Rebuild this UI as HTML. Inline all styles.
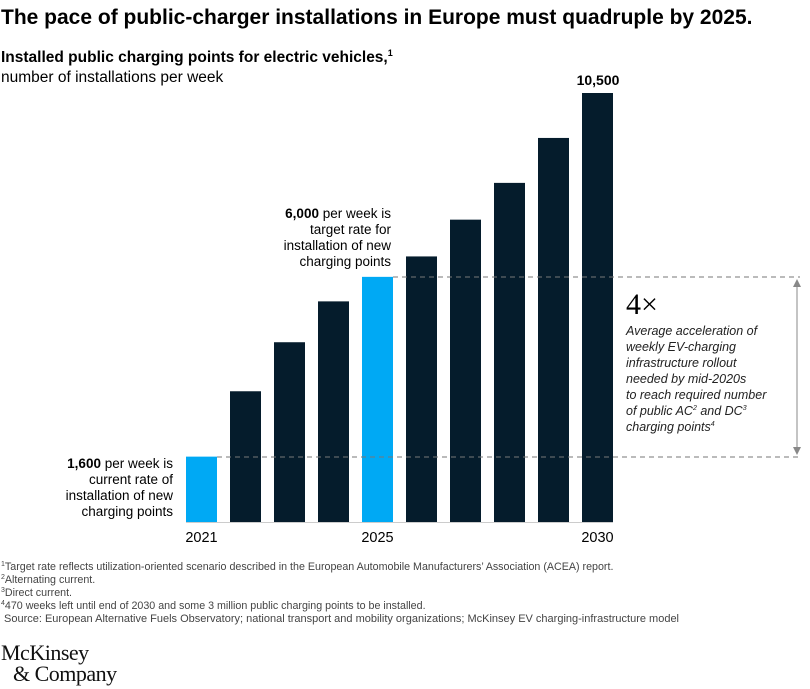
<!DOCTYPE html>
<html><head><meta charset="utf-8"><style>
body{margin:0;background:#fff;width:810px;height:689px;overflow:hidden;font-family:"Liberation Sans",sans-serif;color:#111}
svg{position:absolute;left:0;top:0}
</style></head><body>
<svg width="810" height="689">
<text x="1" y="24" font-size="21" font-weight="bold">The pace of public-charger installations in Europe must quadruple by 2025.</text>
<text x="1" y="62" font-size="15.5" font-weight="bold">Installed public charging points for electric vehicles,<tspan font-size="9" dy="-6">1</tspan></text>
<text x="1" y="82" font-size="15.5">number of installations per week</text>
<g id="bars"></g>
<g id="xlabels"></g>
<line x1="217" y1="457" x2="800" y2="457" stroke="#777" stroke-dasharray="5,4"/>
<line x1="393" y1="277" x2="800" y2="277" stroke="#777" stroke-dasharray="5,4"/>
<line x1="797" y1="282" x2="797" y2="452" stroke="#888" stroke-width="1"/>
<path d="M793,287 L797,279 L801,287 Z M793,447 L797,455 L801,447 Z" fill="#888"/>
<text x="626" y="314" font-family="Liberation Serif,serif" font-size="30">4×</text>
<g font-size="12.5" font-style="italic" fill="#222">
<text x="626" y="335">Average acceleration of</text>
<text x="626" y="351">weekly EV-charging</text>
<text x="626" y="367">infrastructure rollout</text>
<text x="626" y="383">needed by mid-2020s</text>
<text x="626" y="399">to reach required number</text>
<text x="626" y="415">of public AC<tspan font-size="7" dy="-5">2</tspan><tspan dy="5"> and DC</tspan><tspan font-size="7" dy="-5">3</tspan></text>
<text x="626" y="431">charging points<tspan font-size="7" dy="-5">4</tspan></text>
</g>
<g font-size="13.5" text-anchor="end">
<text x="173" y="468"><tspan font-weight="bold">1,600</tspan> per week is</text>
<text x="173" y="484">current rate of</text>
<text x="173" y="500">installation of new</text>
<text x="173" y="516">charging points</text>
</g>
<g font-size="13.5" text-anchor="end">
<text x="391" y="218"><tspan font-weight="bold">6,000</tspan> per week is</text>
<text x="391" y="234">target rate for</text>
<text x="391" y="250">installation of new</text>
<text x="391" y="266">charging points</text>
</g>
<text x="598" y="85" font-size="14" font-weight="bold" text-anchor="middle">10,500</text>
<g font-size="10.7" fill="#444">
<text x="1" y="570"><tspan font-size="7" dy="-4">1</tspan><tspan dy="4">Target rate reflects utilization-oriented scenario described in the European Automobile Manufacturers’ Association (ACEA) report.</tspan></text>
<text x="1" y="583"><tspan font-size="7" dy="-4">2</tspan><tspan dy="4">Alternating current.</tspan></text>
<text x="1" y="596"><tspan font-size="7" dy="-4">3</tspan><tspan dy="4">Direct current.</tspan></text>
<text x="1" y="609"><tspan font-size="7" dy="-4">4</tspan><tspan dy="4">470 weeks left until end of 2030 and some 3 million public charging points to be installed.</tspan></text>
<text x="4" y="622" font-size="11">Source: European Alternative Fuels Observatory; national transport and mobility organizations; McKinsey EV charging-infrastructure model</text>
</g>
<g font-family="Liberation Serif,serif" font-size="22" fill="#111">
<text x="1" y="660" letter-spacing="-0.5">McKinsey</text>
<text x="13" y="681" letter-spacing="-0.5">&amp; Company</text>
</g>
</svg>
<script>
const years=[2021,2022,2023,2024,2025,2026,2027,2028,2029,2030];
const values=[1600,3200,4400,5400,6000,6500,7400,8300,9400,10500];
const highlighted=[2021,2025];
const labeledYears=[2021,2025,2030];
const NS="http://www.w3.org/2000/svg";
const baseY=522,topY=93,maxV=10500;
function yScale(v){return baseY-(v/maxV)*(baseY-topY);}
function xScale(i){return 186+i*44;}
const bw=31;
const g=document.getElementById('bars'),gl=document.getElementById('xlabels');
years.forEach((yr,i)=>{
 const r=document.createElementNS(NS,'rect');
 r.setAttribute('x',xScale(i));r.setAttribute('y',yScale(values[i]));
 r.setAttribute('width',bw);r.setAttribute('height',baseY-yScale(values[i]));
 r.setAttribute('fill',highlighted.includes(yr)?'#00a9f4':'#051c2c');
 
 
 g.appendChild(r);
 if(labeledYears.includes(yr)){
  const t=document.createElementNS(NS,'text');
  t.setAttribute('x',xScale(i)+bw/2);t.setAttribute('y',542);
  t.setAttribute('text-anchor','middle');t.setAttribute('font-size','14.5');
  t.textContent=yr;
  
  
  gl.appendChild(t);
 }
});
const bl=document.createElementNS(NS,'line');
bl.setAttribute('x1',186);bl.setAttribute('x2',xScale(9)+bw);bl.setAttribute('y1',baseY+0.5);bl.setAttribute('y2',baseY+0.5);bl.setAttribute('stroke','#ccc');


g.appendChild(bl);
</script>
</body></html>
